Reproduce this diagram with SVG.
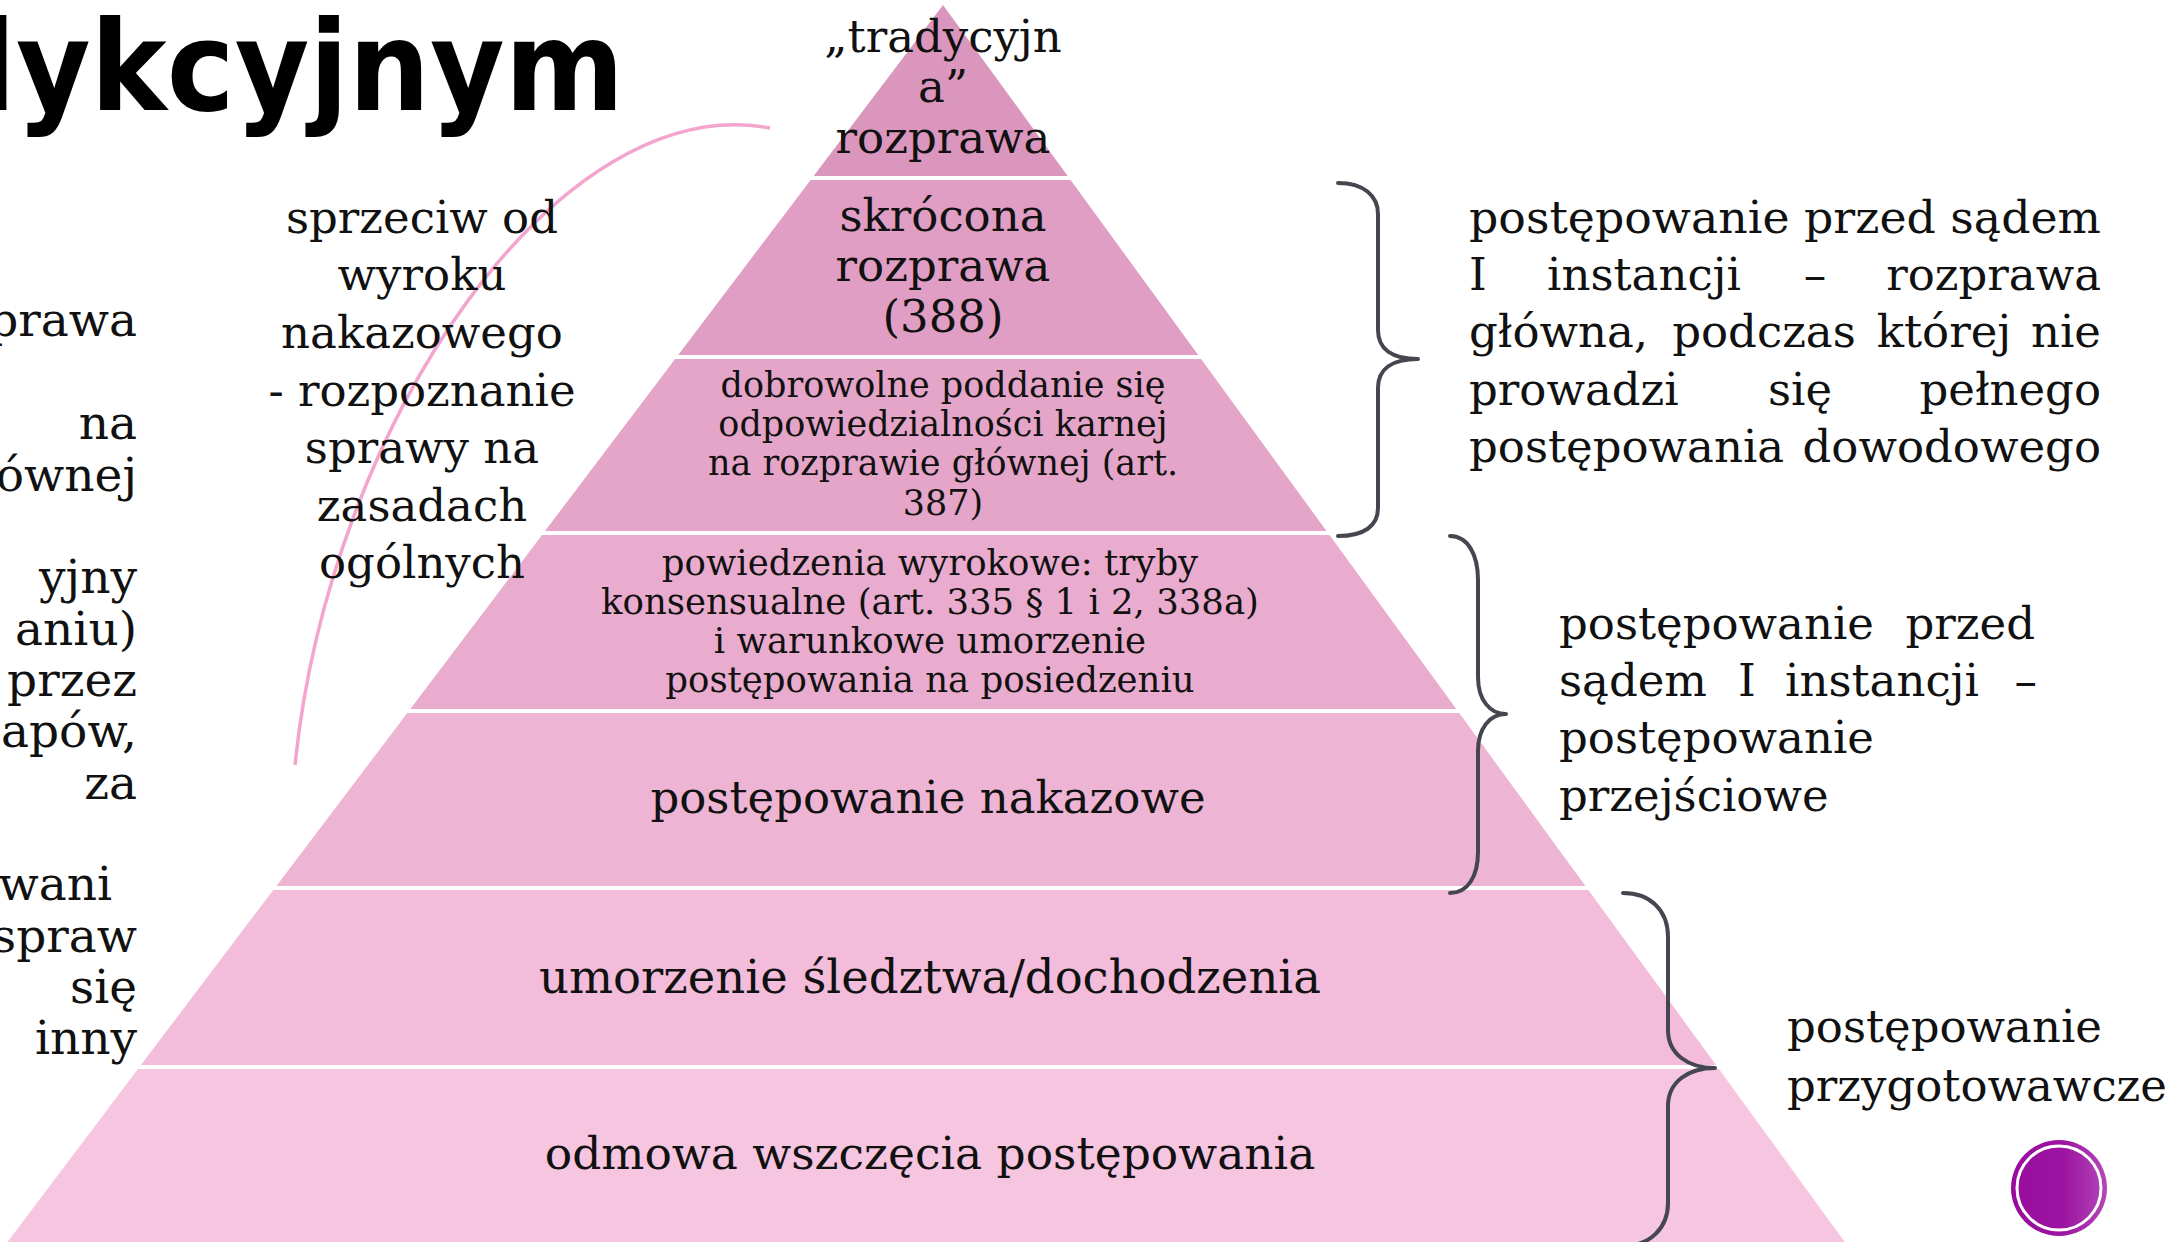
<svg xmlns="http://www.w3.org/2000/svg" width="2169" height="1242" viewBox="0 0 2169 1242">
<defs>
<style>
.t{font-family:"DejaVu Serif","Liberation Serif",serif;fill:#111;}
.big{font-size:45px;}
.mid{font-size:35px;}
.sm{font-size:35.5px;}
.c{text-anchor:middle;}
.e{text-anchor:end;}
.br{fill:none;stroke:#45464f;stroke-width:4;stroke-linecap:round;stroke-linejoin:round;}
</style>
<linearGradient id="dot" x1="0" y1="0" x2="1" y2="0">
<stop offset="0" stop-color="#980c9d"/>
<stop offset="0.55" stop-color="#9c14a1"/>
<stop offset="1" stop-color="#b447b8"/>
</linearGradient>
</defs>
<rect width="2169" height="1242" fill="#ffffff"/>

<g id="title">
<text x="-66" y="110" font-family="DejaVu Sans, sans-serif" font-weight="bold" font-size="124" textLength="690" lengthAdjust="spacingAndGlyphs" fill="#000">dykcyjnym</text>
</g>

<g id="left-cut-text" class="t e" font-size="47">
<text x="137" y="336">prawa</text>
<text x="137" y="439">na</text>
<text x="137" y="491">ównej</text>
<text x="137" y="593">yjny</text>
<text x="137" y="645">aniu)</text>
<text x="137" y="696">przez</text>
<text x="137" y="747">apów,</text>
<text x="137" y="799">za</text>
<text x="112" y="900">wani</text>
<text x="137" y="952">spraw</text>
<text x="137" y="1003">się</text>
<text x="137" y="1054">inny</text>
</g>

<g id="pyramid">
<g id="band1">
<polygon points="943,5 1067.7,176 813.6,176" fill="#db96be"/>
<text class="t big c" x="943" y="52">„tradycyjn</text>
<text class="t big c" x="943" y="102">a”</text>
<text class="t big c" x="943" y="153">rozprawa</text>
</g>
<g id="band2">
<polygon points="810.6,180 1070.6,180 1198.2,355 678.2,355" fill="#e09ec4"/>
<text class="t big c" x="943" y="231">skrócona</text>
<text class="t big c" x="943" y="281">rozprawa</text>
<text class="t big c" x="943" y="332">(388)</text>
</g>
<g id="band3">
<polygon points="675.1,359 1201.1,359 1326.5,531 545,531" fill="#e4a5c8"/>
<text class="t mid c" x="943" y="397">dobrowolne poddanie się</text>
<text class="t mid c" x="943" y="436">odpowiedzialności karnej</text>
<text class="t mid c" x="943" y="475">na rozprawie głównej (art.</text>
<text class="t mid c" x="943" y="515">387)</text>
</g>
<g id="band4">
<polygon points="542,535 1329.5,535 1456.3,709 410.3,709" fill="#e9acce"/>
<text class="t sm c" x="930" y="575">powiedzenia wyrokowe: tryby</text>
<text class="t sm c" x="930" y="614">konsensualne (art. 335 § 1 i 2, 338a)</text>
<text class="t sm c" x="930" y="653">i warunkowe umorzenie</text>
<text class="t sm c" x="930" y="692">postępowania na posiedzeniu</text>
</g>
<g id="band5">
<polygon points="407.3,713 1459.3,713 1585.4,886 276.4,886" fill="#eeb4d4"/>
<text class="t big c" x="928" y="813">postępowanie nakazowe</text>
</g>
<g id="band6">
<polygon points="273.3,890 1588.3,890 1716,1065 140.9,1065" fill="#f2bcda"/>
<text class="t c" font-size="46.5" x="930" y="993">umorzenie śledztwa/dochodzenia</text>
</g>
<g id="band7">
<polygon points="137.9,1069 1718.9,1069 1852,1252 0,1252" fill="#f6c5e0"/>
<text class="t c" font-size="45.5" x="930" y="1169">odmowa wszczęcia postępowania</text>
</g>
</g>

<g id="connectors">
<path id="arc" d="M295 765 C330 420 560 88 770 128" fill="none" stroke="#f3a5cd" stroke-width="3.5"/>
<path id="brace1" class="br" d="M1338 183 C1364 183 1378 196 1378 214 L1378 330 C1378 349 1392 359 1418 359 C1392 359 1378 369 1378 388 L1378 508 C1378 526 1364 536 1338 536"/>
<path id="brace2" class="br" d="M1450 536 C1468 536 1478 555 1478 580 L1478 677 C1478 700 1490 714 1506 714 C1490 714 1478 728 1478 751 L1478 852 C1478 876 1468 893 1450 893"/>
<path id="brace3" class="br" d="M1623 893 C1650 893 1668 910 1668 937 L1668 1030 C1668 1054 1688 1068 1715 1068 C1688 1068 1668 1082 1668 1106 L1668 1203 C1668 1228 1650 1246 1623 1246"/>
</g>

<g id="note-sprzeciw" class="t c" font-size="45">
<text x="422" y="233">sprzeciw od</text>
<text x="422" y="290">wyroku</text>
<text x="422" y="348">nakazowego</text>
<text x="422" y="406">- rozpoznanie</text>
<text x="422" y="463">sprawy na</text>
<text x="422" y="521">zasadach</text>
<text x="422" y="578">ogólnych</text>
</g>

<g id="label-rozprawa" class="t big">
<text x="1469" y="233" textLength="632" lengthAdjust="spacingAndGlyphs">postępowanie przed sądem</text>
<text x="1469" y="290">I</text>
<text x="1644" y="290" class="c">instancji</text>
<text x="1815" y="290" class="c">–</text>
<text x="2101" y="290" class="e">rozprawa</text>
<text x="1469" y="347">główna,</text>
<text x="1764" y="347" class="c">podczas</text>
<text x="1944" y="347" class="c">której</text>
<text x="2101" y="347" class="e">nie</text>
<text x="1469" y="405">prowadzi</text>
<text x="1800" y="405" class="c">się</text>
<text x="2101" y="405" class="e">pełnego</text>
<text x="1469" y="462">postępowania</text>
<text x="2101" y="462" class="e">dowodowego</text>
</g>

<g id="label-przejsciowe" class="t big">
<text x="1559" y="639">postępowanie</text>
<text x="2035" y="639" class="e">przed</text>
<text x="1559" y="696">sądem</text>
<text x="1747" y="696" class="c">I</text>
<text x="1882" y="696" class="c">instancji</text>
<text x="2037" y="696" class="e">–</text>
<text x="1559" y="753">postępowanie</text>
<text x="1559" y="811">przejściowe</text>
</g>

<g id="label-przygotowawcze" class="t big">
<text x="1787" y="1042">postępowanie</text>
<text x="1787" y="1101">przygotowawcze</text>
</g>

<g id="badge">
<circle cx="2059" cy="1188" r="48" fill="url(#dot)"/>
<circle cx="2059" cy="1188" r="42" fill="none" stroke="#ffffff" stroke-width="3"/>
</g>
</svg>
